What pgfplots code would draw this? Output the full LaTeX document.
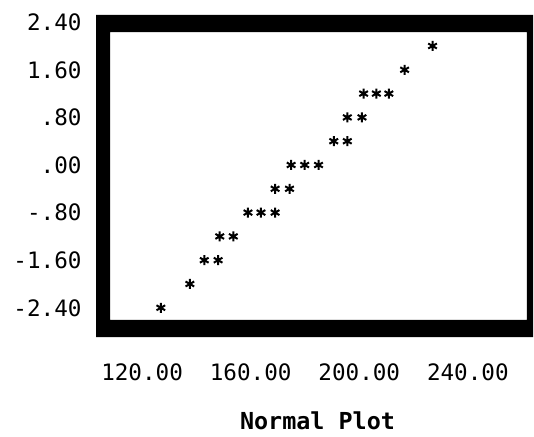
\documentclass[border=0pt]{standalone}
\usepackage{fontspec}
\setmonofont{DejaVu Sans Mono}
\usepackage{pgfplots}
\pgfplotsset{compat=1.18}
\begin{document}
\begin{tikzpicture}
\begin{axis}[
  scale only axis,
  width=437pt, height=322pt,
  xmin=103.02, xmax=264.0,
  ymin=-2.891, ymax=2.521,
  axis line style={draw=none},
  tick style={draw=none},
  xtick={120,160,200,240},
  xticklabels={120.00,160.00,200.00,240.00},
  ytick={-2.4,-1.6,-0.8,0,0.8,1.6,2.4},
  yticklabels={-2.40,-1.60,-.80,.00,.80,1.60,2.40},
  ticklabel style={font=\fontsize{22.6}{26}\selectfont\ttfamily, inner sep=0pt},
  xticklabel style={anchor=north, yshift=-26.7pt},
  yticklabel style={anchor=east, xshift=-14.3pt},
  xlabel={Normal Plot},
  xlabel style={font=\fontsize{23.4}{27}\selectfont\ttfamily\bfseries, inner sep=0pt, anchor=north, at={(axis description cs:0.5,0)}, yshift=-75pt, xshift=3pt},
  clip=false,
]
\fill[black, even odd rule] (rel axis cs:0,0) rectangle (rel axis cs:1,1)
  (axis cs:108.18,-2.605) rectangle (axis cs:261.77,2.235);
\addplot[only marks, mark=asterisk, mark size=5pt, mark options={line width=2pt, black}] coordinates {
(227.0,2.0)
(216.7,1.6)
(201.6,1.2) (206.3,1.2) (210.9,1.2)
(195.6,0.8) (201.0,0.8)
(190.6,0.4) (195.6,0.4)
(174.9,0.0) (179.9,0.0) (185.0,0.0)
(169.0,-0.4) (174.3,-0.4)
(159.0,-0.8) (163.8,-0.8) (169.0,-0.8)
(148.6,-1.2) (153.6,-1.2)
(142.9,-1.6) (148.0,-1.6)
(137.6,-2.0)
(126.9,-2.4)
};
\coordinate (bl) at (rel axis cs:0,0);
\end{axis}
\pgfresetboundingbox
\path ([shift={(-96pt,-99pt)}]bl) rectangle ([shift={(438pt,337pt)}]bl);
\end{tikzpicture}
\end{document}
